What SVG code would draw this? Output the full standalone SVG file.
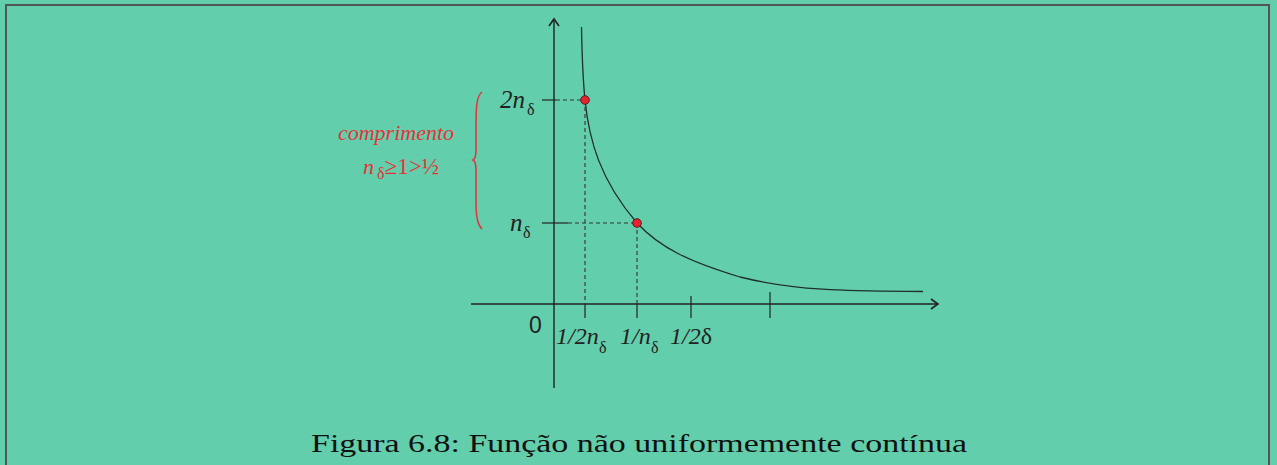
<svg xmlns="http://www.w3.org/2000/svg" width="1277" height="465" viewBox="0 0 1277 465">
<style>
.ax{stroke:#222;stroke-width:1.4;fill:none}
.tk{stroke:#222;stroke-width:1.2;fill:none}
.ds{stroke:#333;stroke-width:1.1;stroke-dasharray:4 3;fill:none}
.cv{stroke:#1f2f2a;stroke-width:1.3;fill:none}
.dot{fill:#e8232f;stroke:#5a1a1a;stroke-width:1}
.lb{font-family:"Liberation Serif",serif;font-style:italic;fill:#222}
.sb{font-family:"Liberation Serif",serif;fill:#222}
.rd{font-family:"Liberation Serif",serif;font-style:italic;fill:#e8303a}
</style>
<defs>
<marker id="ar" markerWidth="12" markerHeight="12" refX="9" refY="6" orient="auto" markerUnits="userSpaceOnUse">
<path d="M2,1 L9,6 L2,11" fill="none" stroke="#222" stroke-width="1.6"/>
</marker>
</defs>
<rect x="0" y="0" width="1277" height="465" fill="#63ceab"/>
<path d="M6,470 L6,5 L1269,5 L1269,470" fill="none" stroke="#555" stroke-width="2"/>
<g id="connectors">
<line class="ax" x1="554" y1="388" x2="554" y2="19" marker-end="url(#ar)"/>
<line class="ax" x1="471" y1="304" x2="938" y2="304" marker-end="url(#ar)"/>
<line class="tk" x1="542" y1="100" x2="556" y2="100"/>
<line class="tk" x1="542" y1="223" x2="568" y2="223"/>
<line class="ds" x1="556" y1="100" x2="585" y2="100"/>
<line class="ds" x1="568" y1="223" x2="637" y2="223"/>
<line class="ds" x1="585" y1="100" x2="585" y2="304"/>
<line class="ds" x1="637" y1="223" x2="637" y2="304"/>
<line class="tk" x1="585" y1="304" x2="585" y2="318"/>
<line class="tk" x1="637" y1="304" x2="637" y2="318"/>
<line class="tk" x1="691" y1="296" x2="691" y2="318"/>
<line class="tk" x1="770" y1="292" x2="770" y2="318"/>
<path class="cv" d="M581.5,27 C582,55 583,80 585,100 C589,140 600,180 637,223 C660,248 690,262 740,277 C800,292 860,291 923,291.5"/>
</g>
<g id="point-2n">
<circle class="dot" cx="585" cy="100" r="4.3"/>
</g>
<g id="point-n">
<circle class="dot" cx="637" cy="223" r="4.3"/>
</g>
<g id="label-2n">
<text class="lb" x="500" y="108" font-size="25">2n</text>
<text class="sb" x="527" y="115" font-size="16">δ</text>
</g>
<g id="label-n">
<text class="lb" x="510" y="231" font-size="25">n</text>
<text class="sb" x="523" y="238" font-size="16">δ</text>
</g>
<g id="label-0">
<text x="529" y="333" font-size="23" font-family="Liberation Sans,sans-serif" fill="#222">0</text>
</g>
<g id="label-x">
<text class="lb" x="556" y="344" font-size="24">1/2n</text>
<text class="sb" x="599" y="353" font-size="16">δ</text>
<text class="lb" x="620" y="344" font-size="24">1/n</text>
<text class="sb" x="651" y="353" font-size="16">δ</text>
<text class="lb" x="670" y="344" font-size="24">1/2<tspan font-style="normal">δ</tspan></text>
</g>
<g id="brace">
<path d="M482,92 C476,96 476,110 476,130 L476,150 C476,156 475,159 473,160 C475,161 476,164 476,170 L476,200 C476,215 477,224 482,229" fill="none" stroke="#e8303a" stroke-width="1.5"/>
</g>
<g id="label-comprimento">
<text class="rd" x="396" y="140" font-size="22" text-anchor="middle">comprimento</text>
<text class="rd" x="363" y="174" font-size="22">n<tspan font-style="normal" font-size="16" dx="3" dy="5">δ</tspan><tspan font-style="normal" font-size="23" dy="-5">≥1&gt;½</tspan></text>
</g>
<g id="caption">
<text x="311" y="452" font-size="25" font-family="Liberation Serif,serif" fill="#111" textLength="656" lengthAdjust="spacingAndGlyphs">Figura 6.8: Função não uniformemente contínua</text>
</g>
</svg>
